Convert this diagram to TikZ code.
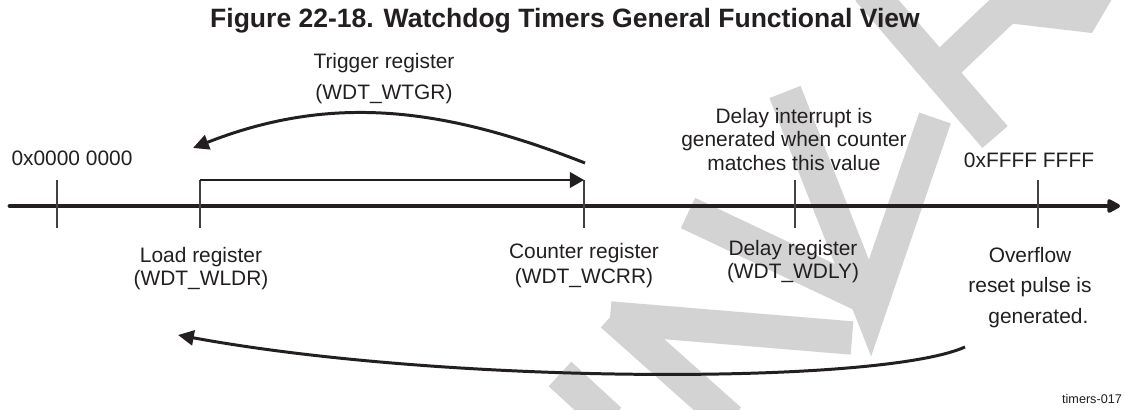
\documentclass[tikz,border=0pt]{standalone}
\usepackage{fontspec}
\setmainfont{Liberation Sans}
\usepackage{xcolor}
\usepackage{tikz}
\usetikzlibrary{arrows.meta}

\definecolor{inkblack}{HTML}{231F20}
\definecolor{wmgray}{RGB}{211,211,211}

\tikzset{
  lbl/.style={font=\fontsize{11.9}{#1}\selectfont, text=inkblack, inner sep=0pt, align=center},
  lbl/.default=13,
  tickline/.style={draw=inkblack!85, line width=0.6pt},
  timeline/.style={draw=inkblack, line width=2.8pt, line cap=round, -{Triangle[length=8.5pt,width=8.5pt,round]}},
  loadarrow/.style={draw=inkblack, line width=0.6pt, -{Triangle[length=8pt,width=9pt]}},
  backarrow/.style={draw=inkblack, line width=1.7pt, -{Triangle[length=9pt,width=8.5pt]}},
  wmstroke/.style={draw=wmgray, line width=19pt},
}

\begin{document}
\begin{tikzpicture}[x=0.02cm, y=-0.02cm]
  \useasboundingbox[fill=white] (0,0) rectangle (1125,409);

  % Watermark in the background
  \draw[wmstroke] (868,-10) -- (995,137);
  \draw[wmstroke] (940,70) -- (1022,-8);
  \fill[wmgray] (990,-1) -- (1112,-1) -- (1092,33) -- (998,22) -- cycle;
  \draw[wmstroke, line join=miter] (785,92) -- (870,308) -- (935,118);
  \draw[wmstroke] (688,213) -- (872,300);
  \draw[wmstroke] (610,318) -- (852,338);
  \draw[wmstroke] (612,315) -- (730,420);
  \draw[wmstroke] (560,374) -- (610,420);

  % Title
  \node[font=\fontsize{15.1}{18}\selectfont\bfseries, text=inkblack, anchor=base] (title) at (565,28)
    {Figure 22-18. Watchdog Timers General Functional View};

  % Time line and its marks
  \coordinate (axstart) at (10,206);
  \coordinate (axend) at (1120,206);
  \draw[timeline] (axstart) -- (axend);
  \foreach \n/\x in {zero/57, load/200, count/584, delay/795, full/1038} {
    \coordinate (\n-top) at (\x,180);
    \coordinate (\n-bot) at (\x,228);
    \draw[tickline] (\n-top) -- (\n-bot);
  }

  % Load value runs up to the counter
  \draw[loadarrow] (load-top) -- (count-top);

  % Trigger arrow, back to the load value
  \coordinate (trigstart) at (585,163);
  \coordinate (trigend) at (193,148);
  \draw[backarrow] (trigstart) .. controls (445,108) and (333,93) .. (trigend);

  % Overflow arrow, back to the load value
  \coordinate (ovfstart) at (965,347);
  \coordinate (ovfend) at (178,335);
  \draw[backarrow] (ovfstart) .. controls (880,385) and (450,385) .. (ovfend);

  % Labels above the line
  \node[lbl=17.6, anchor=north] (trig) at (384,53) {Trigger register\\(WDT\_WTGR)};
  \node[lbl, anchor=base] (lowval) at (72,165) {0x0000 0000};
  \node[lbl=13.3, anchor=north] (dlyint) at (794,108) {Delay interrupt is\\generated when counter\\matches this value};
  \node[lbl, anchor=base] (highval) at (1029,167) {0xFFFF FFFF};

  % Labels below the line
  \node[lbl, anchor=north] (wldr) at (201,247) {Load register\\(WDT\_WLDR)};
  \node[lbl=14.2, anchor=north] (wcrr) at (584,243) {Counter register\\(WDT\_WCRR)};
  \node[lbl, anchor=north] (wdly) at (793,240) {Delay register\\(WDT\_WDLY)};
  \node[lbl=17.3, anchor=north] (ovf) at (1030,247) {Overflow\\reset pulse is\\\hspace*{0.8em}generated.};

  % Figure tag
  \node[font=\fontsize{7.2}{9}\selectfont, text=inkblack, anchor=base, inner sep=0pt] (tag) at (1092,403) {timers-017};
\end{tikzpicture}
\end{document}
